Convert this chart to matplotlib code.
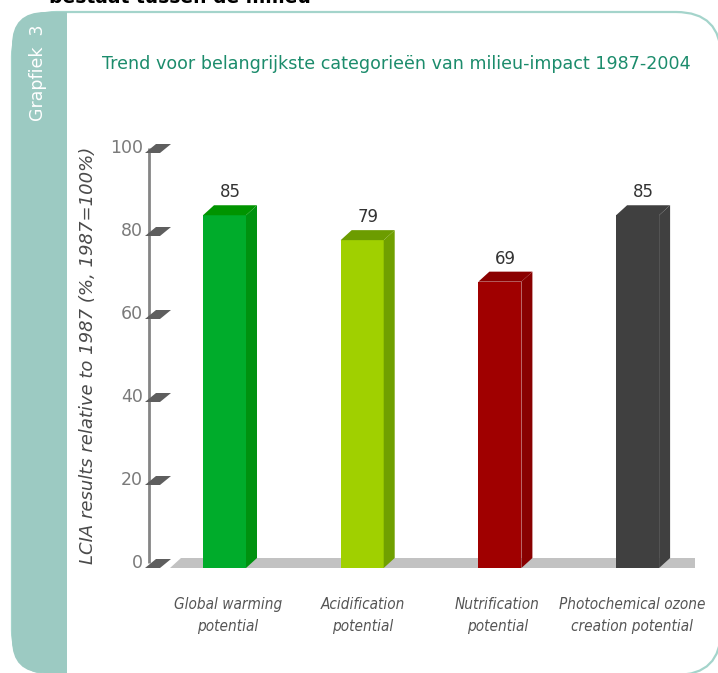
import matplotlib
matplotlib.use("Agg")
import matplotlib.pyplot as plt
from matplotlib.patches import Polygon, FancyBboxPatch, Rectangle

# ---------------- data ----------------
categories = ["Global warming\npotential", "Acidification\npotential",
              "Nutrification\npotential", "Photochemical ozone\ncreation potential"]
values = [85, 79, 69, 85]
value_labels = ["85", "79", "69", "85"]
yticks = [0, 20, 40, 60, 80, 100]
ytick_labels = ["0", "20", "40", "60", "80", "100"]
front_colors = ["#00AC2B", "#A0D000", "#A00000", "#404040"]
side_colors = ["#009210", "#70A000", "#880000", "#404040"]
top_colors = ["#009400", "#6C9C00", "#8A0000", "#404040"]
title = "Trend voor belangrijkste categorieën van milieu-impact 1987-2004"
ylabel = "LCIA results relative to 1987 (%, 1987=100%)"
side_label = "Grapfiek  3"
top_cut_text = "bestaat tussen de milieu"

# ---------------- layout ----------------
W, H = 718, 673
fig = plt.figure(figsize=(W / 100, H / 100), dpi=100)
fig.patch.set_facecolor("white")

# background / frame axes in pixel units
bg = fig.add_axes([0, 0, 1, 1])
bg.set_xlim(0, W)
bg.set_ylim(H, 0)
bg.axis("off")
teal = "#9CCAC2"
frame = FancyBboxPatch((12, 12), 709, 663, boxstyle="round,pad=0,rounding_size=45",
                       facecolor="white", edgecolor="#A4D4CB", lw=1.6, zorder=1)
bg.add_patch(frame)
side = FancyBboxPatch((12, 12), 90, 661, boxstyle="round,pad=0,rounding_size=33",
                      facecolor=teal, edgecolor="none", zorder=2)
bg.add_patch(side)
clip = Rectangle((0, 0), 67, H, transform=bg.transData)
side.set_clip_path(clip)
bg.text(38, 73, side_label, rotation=90, color="white", fontsize=12.5,
        ha="center", va="center", family="DejaVu Sans", zorder=3)
bg.text(180, 3, top_cut_text, color="black", fontsize=13.5, fontweight="bold",
        ha="center", va="baseline", family="DejaVu Sans", zorder=3)
bg.text(102, 64, title, color="#1C8C6C", fontsize=12.6, ha="left", va="center",
        family="DejaVu Sans", zorder=3)

# chart axes in data units
X0, SX = 224.5, 137.7     # px of first category, px per category
Y0, SY = 563.0, 4.15      # px of value 0, px per unit
ax = fig.add_axes([0, 0, 1, 1])
ax.patch.set_alpha(0)
ax.set_xlim(-X0 / SX, (W - X0) / SX)
ax.set_ylim(-(H - Y0) / SY, Y0 / SY)
ax.axis("off")

def dx(px):
    return px / SX

def dy(px):
    return px / SY

def xpx(px):
    return (px - X0) / SX

n = len(values)
xs = list(range(n))
bw = dx(43)
ddx, ddy = dx(11), dy(10)
base = -dy(5)

# floor
fl, fr = xpx(170), xpx(695)
ax.add_patch(Polygon([(fl, base), (fl + ddx, base + ddy), (fr, base + ddy), (fr, base)],
                     closed=True, facecolor="#C2C2C2", edgecolor="none", zorder=1))

# axis line and tick slabs
axx = xpx(149)
ax.plot([axx, axx], [yticks[0], yticks[-1]], color="#858585", lw=2, zorder=2,
        solid_capstyle="butt")
for t, lab in zip(yticks, ytick_labels):
    ax.add_patch(Polygon([(axx - dx(4), t - dy(5)), (axx + dx(11), t - dy(5)),
                          (axx + dx(22), t + dy(4)), (axx + dx(7), t + dy(4))],
                         closed=True, facecolor="#5E5E5E", edgecolor="none", zorder=3))
    ax.text(axx - dx(6), t, lab, ha="right", va="center", fontsize=12.5,
            color="#7A7A7A", family="DejaVu Sans")

# bars
bars = ax.bar(xs, values, bottom=base, width=bw, color=front_colors, zorder=4,
              linewidth=0)
for i, (b, v) in enumerate(zip(bars, values)):
    x0 = b.get_x()
    x1 = x0 + b.get_width()
    yb = base
    yt = base + v
    ax.add_patch(Polygon([(x1, yb), (x1 + ddx, yb + ddy), (x1 + ddx, yt + ddy), (x1, yt)],
                         closed=True, facecolor=side_colors[i], edgecolor="none", zorder=4))
    ax.add_patch(Polygon([(x0, yt), (x0 + ddx, yt + ddy), (x1 + ddx, yt + ddy), (x1, yt)],
                         closed=True, facecolor=top_colors[i], edgecolor="none", zorder=4))
    ax.text(i + ddx / 2, yt + ddy + dy(4), value_labels[i], ha="center", va="bottom",
            fontsize=12, color="#333333", family="DejaVu Sans")

# category labels
for i, c in enumerate(categories):
    ax.text(i + ddx / 2 - dx(2) - i * dx(3), -dy(34), c, ha="center", va="top",
            fontsize=11, style="italic", color="#555555", family="DejaVu Sans",
            fontstretch="condensed", linespacing=1.55)

# y label
ax.text(xpx(88), dy(Y0 - 355), ylabel, rotation=90, ha="center", va="center",
        fontsize=13, style="italic", color="#4A4A4A", family="DejaVu Sans")

fig.savefig("out.png", dpi=100, facecolor="white")
